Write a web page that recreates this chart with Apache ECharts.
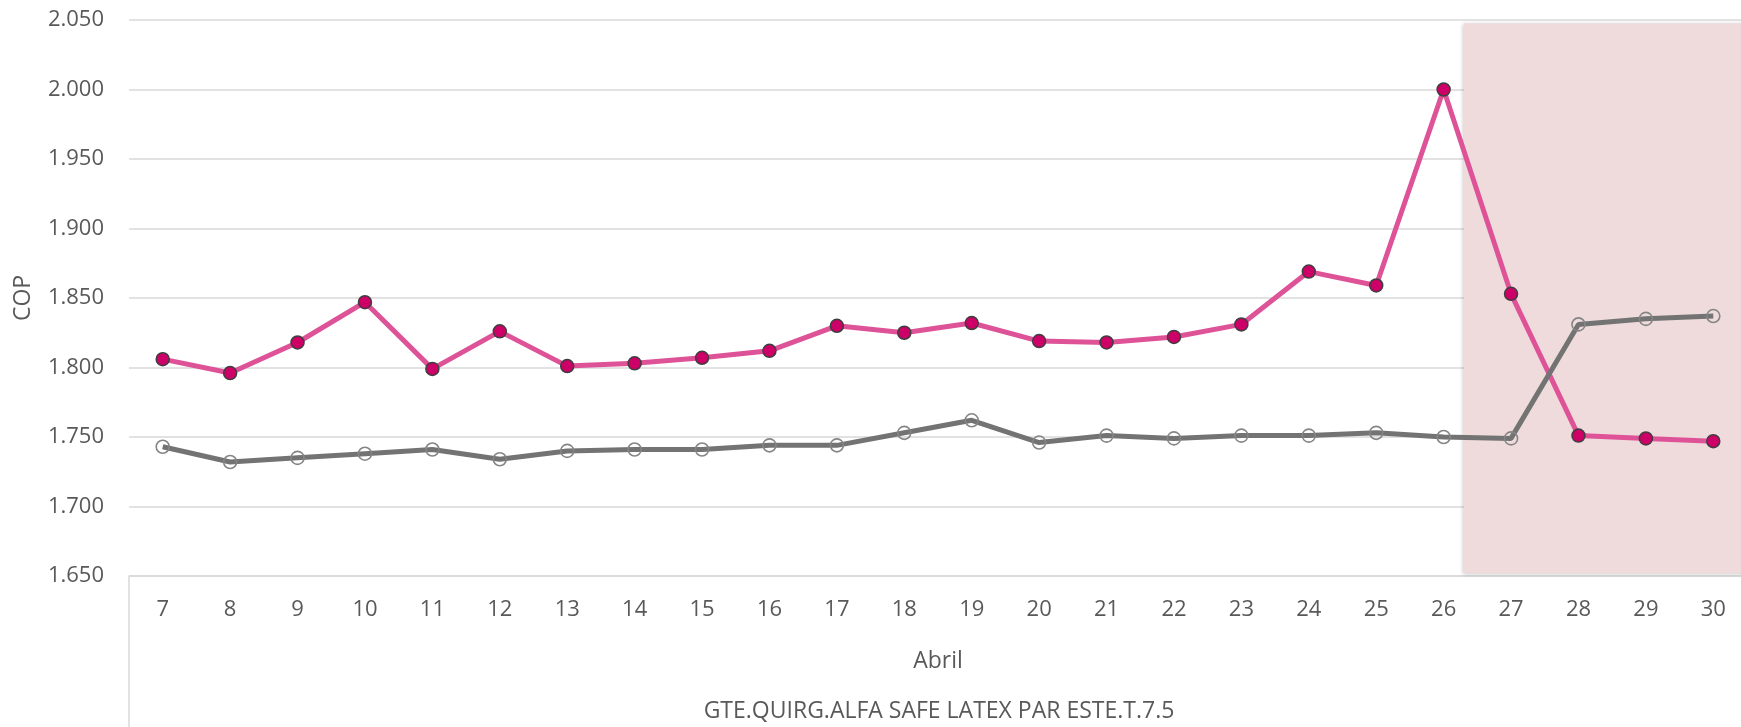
<!DOCTYPE html>
<html>
<head>
<meta charset="utf-8">
<title>COP Abril</title>
<script src="https://cdn.jsdelivr.net/npm/echarts@6/dist/echarts.min.js"></script>
<style>
  html, body { margin: 0; padding: 0; background: #ffffff; }
  #chart { width: 1741px; height: 727px; }
</style>
</head>
<body>
<div id="chart"></div>
<script>
// dias de abril
const dias = ['7', '8', '9', '10', '11', '12', '13', '14', '15', '16', '17', '18',
  '19', '20', '21', '22', '23', '24', '25', '26', '27', '28', '29', '30'];

// serie rosa (marcadores rellenos)
const copRosa = [1.806, 1.796, 1.818, 1.847, 1.799, 1.826, 1.801, 1.803, 1.807, 1.812,
  1.830, 1.825, 1.832, 1.819, 1.818, 1.822, 1.831, 1.869, 1.859, 2.000,
  1.853, 1.751, 1.749, 1.747];

// serie gris (marcadores huecos)
const copGris = [1.743, 1.732, 1.735, 1.738, 1.741, 1.734, 1.740, 1.741, 1.741, 1.744,
  1.744, 1.753, 1.762, 1.746, 1.751, 1.749, 1.751, 1.751, 1.753, 1.750,
  1.749, 1.831, 1.835, 1.837];

// zona sombreada (desde el dia 26.3 hasta el final)
const sombra = [26.3, 30.5];

const etiqueta = 'GTE.QUIRG.ALFA SAFE LATEX PAR ESTE.T.7.5';
const fuente = '"Open Sans", "Noto Sans", sans-serif';
const gris = '#595959';

const chart = echarts.init(document.getElementById('chart'));

const option = {
  animation: false,
  textStyle: { fontFamily: fuente },
  // el area de trazado se sale un poco por la derecha, como en el original
  grid: { left: 129, top: 20, width: 1618, bottom: 151, outerBoundsMode: 'none' },
  xAxis: [
    {
      type: 'category',
      data: dias,
      boundaryGap: true,
      name: 'Abril',
      nameLocation: 'middle',
      nameGap: 74,
      nameTextStyle: { color: gris, fontSize: 23, fontFamily: fuente },
      axisLine: { lineStyle: { color: '#d9d9d9', width: 1.5 } },
      axisTick: { show: false },
      axisLabel: { color: gris, fontSize: 22, margin: 23, fontFamily: fuente }
    },
    {
      type: 'value',
      min: 6.5,
      max: 30.5,
      show: false
    }
  ],
  yAxis: {
    type: 'value',
    min: 1.65,
    max: 2.05,
    interval: 0.05,
    name: 'COP',
    nameLocation: 'middle',
    nameGap: 94,
    nameTextStyle: { color: gris, fontSize: 23, fontFamily: fuente },
    axisLine: { show: false },
    axisTick: { show: false },
    axisLabel: {
      color: gris,
      fontSize: 22,
      margin: 25,
      fontFamily: fuente,
      formatter: v => v.toFixed(3)
    },
    splitLine: { lineStyle: { color: '#d9d9d9', width: 1.5 } }
  },
  graphic: [
    {
      type: 'line',
      shape: { x1: 129, y1: 576, x2: 129, y2: 727 },
      style: { stroke: '#d9d9d9', lineWidth: 1.5 }
    },
    {
      type: 'text',
      x: 939,
      y: 711,
      style: {
        text: etiqueta,
        fill: gris,
        fontSize: 23,
        fontFamily: fuente,
        textAlign: 'center',
        textVerticalAlign: 'middle'
      }
    }
  ],
  series: [
    {
      name: 'sombra',
      type: 'line',
      xAxisIndex: 1,
      data: [],
      z: -1,
      silent: true,
      markArea: {
        silent: true,
        itemStyle: {
          color: '#efdbdc',
          shadowColor: 'rgba(0,0,0,0.22)',
          shadowBlur: 4,
          shadowOffsetX: -1,
          shadowOffsetY: 1
        },
        data: [[{ coord: [sombra[0], 2.0476] }, { coord: [sombra[1], 1.652] }]]
      }
    },
    {
      name: 'rosa',
      type: 'line',
      data: copRosa,
      z: 3,
      symbol: 'circle',
      symbolSize: 13,
      lineStyle: { color: '#de5397', width: 5 },
      itemStyle: { color: '#cc0066', borderColor: '#3f3f3f', borderWidth: 1.5 }
    },
    {
      name: 'gris',
      type: 'line',
      data: copGris,
      z: 4,
      symbol: 'circle',
      symbolSize: 13,
      lineStyle: { color: '#737373', width: 5 },
      itemStyle: { color: 'rgba(255,255,255,0)', borderColor: '#858585', borderWidth: 1.6 }
    }
  ]
};

chart.setOption(option);
</script>
</body>
</html>
